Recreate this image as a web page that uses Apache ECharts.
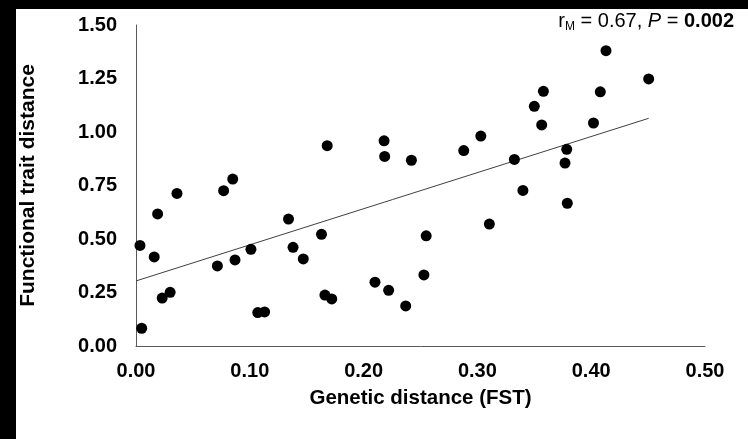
<!DOCTYPE html>
<html>
<head>
<meta charset="utf-8">
<script src="https://cdn.jsdelivr.net/npm/echarts@6/dist/echarts.min.js"></script>
<style>
html,body{margin:0;padding:0;background:#000;width:748px;height:439px;overflow:hidden;}
#chart{position:absolute;left:16px;top:9px;width:732px;height:430px;background:#fff;}
</style>
</head>
<body>
<div id="chart"></div>
<script>
// Data
var geneticDistance = [0.0035,0.005,0.016,0.019,0.023,0.030,0.036,0.0715,0.077,0.085,0.087,0.101,0.107,0.113,0.134,0.138,0.147,0.163,0.166,0.168,0.172,0.210,0.218,0.2185,0.222,0.237,0.242,0.253,0.255,0.288,0.303,0.3105,0.3325,0.340,0.350,0.3565,0.358,0.377,0.3785,0.379,0.402,0.408,0.413,0.4505];
var traitDistance  = [0.470,0.083,0.416,0.617,0.224,0.251,0.713,0.374,0.726,0.780,0.402,0.452,0.156,0.159,0.593,0.461,0.407,0.522,0.238,0.936,0.220,0.298,0.959,0.886,0.260,0.187,0.868,0.332,0.515,0.913,0.981,0.570,0.872,0.727,1.120,1.033,1.190,0.855,0.919,0.667,1.042,1.188,1.380,1.248];
var trendX = [0, 0.4505];
var trendY = [0.304, 1.064];
var xTicks = [0.00,0.10,0.20,0.30,0.40,0.50];
var yTicks = [0.00,0.25,0.50,0.75,1.00,1.25,1.50];
var xTitle = 'Genetic distance (FST)';
var yTitle = 'Functional trait distance';

var pts = geneticDistance.map(function(x,i){return [x, traitDistance[i]];});
var trend = trendX.map(function(x,i){return [x, trendY[i]];});

var chart = echarts.init(document.getElementById('chart'), null, {renderer:'canvas'});
var FF = 'Liberation Sans, Arial, sans-serif';
var labelFont = {fontFamily:FF, fontWeight:'bold', fontSize:20, color:'#000'};
chart.setOption({
  backgroundColor:'#fff',
  animation:false,
  grid:{left:120, right:43, top:16, bottom:93, containLabel:false, outerBoundsMode:'none'},
  xAxis:{
    type:'value', min:xTicks[0], max:xTicks[xTicks.length-1], interval:0.1,
    name:xTitle, nameLocation:'middle', nameGap:42,
    nameTextStyle:{fontFamily:FF, fontWeight:'bold', fontSize:20.5, color:'#000'},
    axisLine:{show:true, lineStyle:{color:'#595959', width:1}},
    axisTick:{show:false}, splitLine:{show:false},
    axisLabel:Object.assign({margin:15, formatter:function(v){return v.toFixed(2);}}, labelFont)
  },
  yAxis:{
    type:'value', min:yTicks[0], max:yTicks[yTicks.length-1], interval:0.25,
    name:yTitle, nameLocation:'middle', nameGap:97, nameRotate:90,
    nameTextStyle:{fontFamily:FF, fontWeight:'bold', fontSize:21, color:'#000'},
    axisLine:{show:true, lineStyle:{color:'#595959', width:1}},
    axisTick:{show:false}, splitLine:{show:false},
    axisLabel:Object.assign({margin:19, formatter:function(v){return v.toFixed(2);}}, labelFont)
  },
  series:[
    {type:'line', data:trend, symbol:'none', lineStyle:{color:'#404040', width:1}, z:1},
    {type:'scatter', data:pts, symbol:'circle', symbolSize:11, itemStyle:{color:'#000', opacity:1}, z:2}
  ],
  graphic:[{
    type:'text', right:14, top:2,
    style:{
      text:'{n|r}{sub|M}{n| = 0.67, }{i|P}{n| = }{b|0.002}',
      rich:{
        n:{fontFamily:FF, fontSize:20, fill:'#000'},
        i:{fontFamily:FF, fontSize:20, fontStyle:'italic', fill:'#000'},
        b:{fontFamily:FF, fontSize:20, fontWeight:'bold', fill:'#000'},
        sub:{fontFamily:FF, fontSize:12, fill:'#000', padding:[11,0,0,0]}
      }
    }
  }]
});
</script>
</body>
</html>
